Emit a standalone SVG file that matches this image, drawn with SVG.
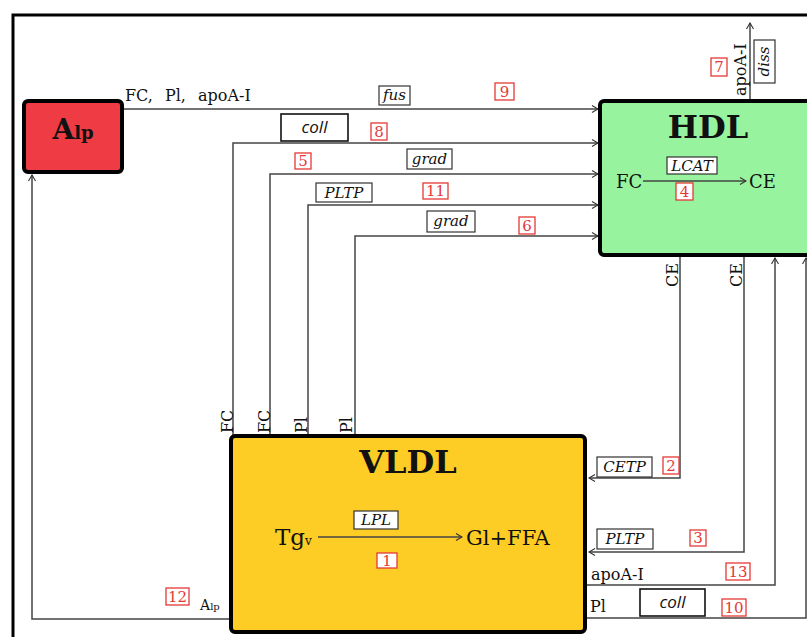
<svg xmlns="http://www.w3.org/2000/svg" width="807" height="637" viewBox="0 0 807 637">
<defs>
<marker id="ah" markerWidth="8" markerHeight="8" refX="7" refY="4" orient="auto" markerUnits="userSpaceOnUse">
<path d="M1,0.5 L7,4 L1,7.5" fill="none" stroke="#333" stroke-width="1.1"/>
</marker>
<style>
.ln{fill:none;stroke:#444;stroke-width:1.5}
.node{stroke:#000;stroke-width:4}
.t{font-family:"DejaVu Serif","Liberation Serif",serif;fill:#111}
.lbl{font-family:"DejaVu Serif","Liberation Serif",serif;font-size:16px;fill:#111}
.enz{fill:#fff;stroke:#333;stroke-width:1.2}
.enzt{font-family:"DejaVu Serif","Liberation Serif",serif;font-style:italic;font-size:15px;fill:#111;text-anchor:middle}
.num{fill:#fff;stroke:#e53935;stroke-width:1.3}
.numt{font-family:"DejaVu Serif","Liberation Serif",serif;font-size:15px;fill:#e53935;text-anchor:middle}
.coll{fill:#fff;stroke:#111;stroke-width:1.6}
.collt{font-family:"Open Sans","DejaVu Sans",sans-serif;font-style:italic;font-size:17px;fill:#111;text-anchor:middle}
</style>
</defs>
<rect width="807" height="637" fill="#fff"/>
<path d="M13,637 L13,15 L807,15" fill="none" stroke="#000" stroke-width="3"/>

<g id="connectors">
<path class="ln" d="M122,109 L598,109" marker-end="url(#ah)"/>
<path class="ln" d="M233,436 L233,143 L598,143" marker-end="url(#ah)"/>
<path class="ln" d="M270,436 L270,174 L598,174" marker-end="url(#ah)"/>
<path class="ln" d="M308,436 L308,205 L598,205" marker-end="url(#ah)"/>
<path class="ln" d="M355,436 L355,236 L598,236" marker-end="url(#ah)"/>
<path class="ln" d="M680,256 L680,478 L589,478" marker-end="url(#ah)"/>
<path class="ln" d="M744,256 L744,552 L589,552" marker-end="url(#ah)"/>
<path class="ln" d="M587,585 L775,585 L775,258" marker-end="url(#ah)"/>
<path class="ln" d="M587,618 L806,618 L806,258" marker-end="url(#ah)"/>
<path class="ln" d="M231,619 L32,619 L32,175" marker-end="url(#ah)"/>
<path class="ln" d="M750,101 L750,23" marker-end="url(#ah)"/>
</g>

<g id="labels">
<text class="lbl" x="125" y="101" word-spacing="7">FC, Pl, apoA-I</text>
<rect class="enz" x="379" y="86" width="31" height="19"/>
<text class="enzt" x="394.5" y="100">fus</text>
<rect class="num" x="495" y="83" width="19" height="17"/>
<text class="numt" x="504.5" y="97">9</text>

<rect class="coll" x="281" y="114" width="67" height="27"/>
<text class="collt" x="314.5" y="133">coll</text>
<rect class="num" x="371" y="123" width="16" height="17"/>
<text class="numt" x="379" y="137">8</text>

<rect class="num" x="295" y="153" width="16" height="16"/>
<text class="numt" x="303" y="166">5</text>
<rect class="enz" x="407" y="149" width="45" height="20"/>
<text class="enzt" x="429.5" y="164">grad</text>

<rect class="enz" x="316" y="183" width="56" height="19"/>
<text class="enzt" x="344" y="198">PLTP</text>
<rect class="num" x="423" y="183" width="25" height="16"/>
<text class="numt" x="435.5" y="196">11</text>

<rect class="enz" x="427" y="211" width="48" height="21"/>
<text class="enzt" x="451" y="226">grad</text>
<rect class="num" x="519" y="217" width="16" height="17"/>
<text class="numt" x="527" y="231">6</text>

<text class="lbl" transform="translate(233,433) rotate(-90)">FC</text>
<text class="lbl" transform="translate(270,433) rotate(-90)">FC</text>
<text class="lbl" transform="translate(307,433) rotate(-90)">Pl</text>
<text class="lbl" transform="translate(352,433) rotate(-90)">Pl</text>

<text class="lbl" transform="translate(678,287) rotate(-90)">CE</text>
<text class="lbl" transform="translate(742,287) rotate(-90)">CE</text>

<rect class="enz" x="597" y="457" width="55" height="20"/>
<text class="enzt" x="624.5" y="472">CETP</text>
<rect class="num" x="663" y="457" width="16" height="17"/>
<text class="numt" x="671" y="471">2</text>

<rect class="enz" x="597" y="529" width="56" height="20"/>
<text class="enzt" x="625" y="544">PLTP</text>
<rect class="num" x="690" y="530" width="16" height="16"/>
<text class="numt" x="698" y="543">3</text>

<text class="lbl" x="591" y="580">apoA-I</text>
<rect class="num" x="726" y="563" width="24" height="17"/>
<text class="numt" x="738" y="577">13</text>

<text class="lbl" x="590" y="612">Pl</text>
<rect class="coll" x="640" y="589" width="65" height="27"/>
<text class="collt" x="672.5" y="608">coll</text>
<rect class="num" x="722" y="599" width="24" height="17"/>
<text class="numt" x="734" y="613">10</text>

<rect class="num" x="166" y="588" width="23" height="17"/>
<text class="numt" x="177.5" y="602">12</text>
<text class="t" x="200" y="610" font-size="14">A<tspan font-size="10">lp</tspan></text>

<text class="lbl" transform="translate(746,96) rotate(-90)">apoA-I</text>
<rect class="enz" x="754" y="40" width="21" height="43"/>
<text class="enzt" transform="translate(769,61.5) rotate(-90)">diss</text>
<rect class="num" x="711" y="58" width="16" height="18"/>
<text class="numt" x="719" y="72">7</text>
</g>

<g id="Alp">
<rect class="node" x="24" y="101" width="98" height="71" rx="4" fill="#ee3b44"/>
<text class="t" x="73" y="139" text-anchor="middle" font-size="28" font-weight="bold">A<tspan font-size="18">lp</tspan></text>
</g>

<g id="HDL">
<rect class="node" x="600" y="101" width="212" height="154" rx="4" fill="#98f39e"/>
<text class="t" x="708" y="138" text-anchor="middle" font-size="32" font-weight="bold">HDL</text>
<text class="t" x="616" y="188" font-size="18">FC</text>
<path class="ln" d="M643,181 L746,181" marker-end="url(#ah)"/>
<text class="t" x="749" y="188" font-size="18">CE</text>
<rect class="enz" x="667" y="157" width="50" height="17" fill="none"/>
<text class="enzt" x="692" y="171">LCAT</text>
<rect class="num" x="676" y="183" width="17" height="17" fill="none"/>
<text class="numt" x="684.5" y="197">4</text>
</g>

<g id="VLDL">
<rect class="node" x="231" y="436" width="354" height="196" rx="4" fill="#fdcc25"/>
<text class="t" x="408" y="473" text-anchor="middle" font-size="32" font-weight="bold">VLDL</text>
<text class="t" x="275" y="545" font-size="23">Tg<tspan font-size="12">v</tspan></text>
<path class="ln" d="M318,537 L462,537" marker-end="url(#ah)"/>
<text class="t" x="466" y="545" font-size="21">Gl+FFA</text>
<rect class="enz" x="354" y="511" width="44" height="18" fill="none"/>
<text class="enzt" x="376" y="525">LPL</text>
<rect class="num" x="377" y="553" width="20" height="15" fill="none"/>
<text class="numt" x="387" y="566">1</text>
</g>
</svg>
